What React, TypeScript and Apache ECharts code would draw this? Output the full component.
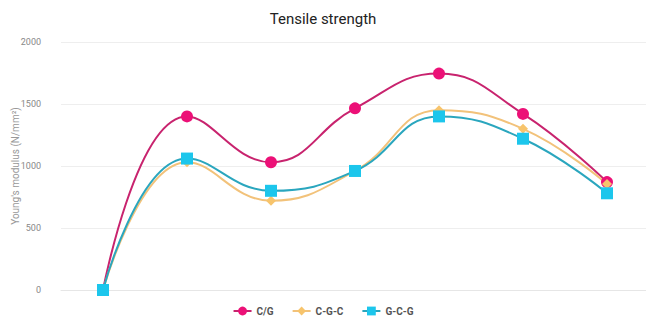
import React, { useEffect, useRef } from "react";
import * as echarts from "echarts";

const categories = ["0", "1", "2", "3", "4", "5", "6"];
const cgValues = [0, 1400, 1030, 1465, 1745, 1420, 870];
const cgcValues = [0, 1030, 720, 960, 1450, 1300, 855];
const gcgValues = [0, 1060, 800, 960, 1400, 1220, 780];

export default function App() {
  const ref = useRef<HTMLDivElement>(null);

  useEffect(() => {
    if (!ref.current) return;
    const chart = echarts.init(ref.current, null, { renderer: "svg" });
    const font = "Roboto, 'Noto Sans', sans-serif";
    const mk = (name: string, data: number[], symbol: string, size: number, marker: string, line: string) => ({
      name,
      type: "line",
      data,
      smooth: 0.45,
      symbol,
      symbolSize: size,
      showAllSymbol: true,
      itemStyle: { color: marker },
      lineStyle: { color: line, width: 2 },
      emphasis: { disabled: true },
    });
    chart.setOption({
      animation: false,
      textStyle: { fontFamily: font },
      title: {
        text: "Tensile strength",
        left: "center",
        top: 6,
        textStyle: { fontFamily: font, fontSize: 15, fontWeight: "normal", color: "#222" },
      },
      legend: {
        bottom: -1,
        left: "center",
        itemGap: 18,
        itemWidth: 18,
        itemHeight: 11,
        textStyle: { fontFamily: font, fontSize: 10, fontWeight: "bold", color: "#555" },
        data: ["C/G", "C-G-C", "G-C-G"],
      },
      grid: { left: 61, top: 42, width: 588, bottom: 30, outerBoundsMode: "none" },
      xAxis: {
        type: "category",
        data: categories,
        boundaryGap: true,
        axisLine: { show: true, lineStyle: { color: "#e6e6e6" } },
        axisTick: { show: false },
        axisLabel: { show: false },
      },
      yAxis: {
        type: "value",
        min: 0,
        max: 2000,
        interval: 500,
        name: "Young's modulus (N/mm²)",
        nameLocation: "middle",
        nameGap: 41,
        nameMoveOverlap: false,
        nameTextStyle: { fontFamily: font, fontSize: 10, color: "#999" },
        axisLine: { show: false },
        axisTick: { show: false },
        axisLabel: { fontFamily: font, fontSize: 9, color: "#888", margin: 20, formatter: (v: number) => String(v) },
        splitLine: { lineStyle: { color: "#eeeeee" } },
      },
      series: [
        mk("C/G", cgValues, "circle", 12, "#ec1077", "#c8236e"),
        mk("C-G-C", cgcValues, "diamond", 10, "#f7c46c", "#f2c27a"),
        mk("G-C-G", gcgValues, "rect", 12, "#1cc6ec", "#2aa6be"),
      ],
    });
    return () => chart.dispose();
  }, []);

  return (
    <div
      ref={ref}
      style={{ position: "fixed", left: 0, top: 0, width: 646, height: 320, background: "#fff" }}
    />
  );
}
